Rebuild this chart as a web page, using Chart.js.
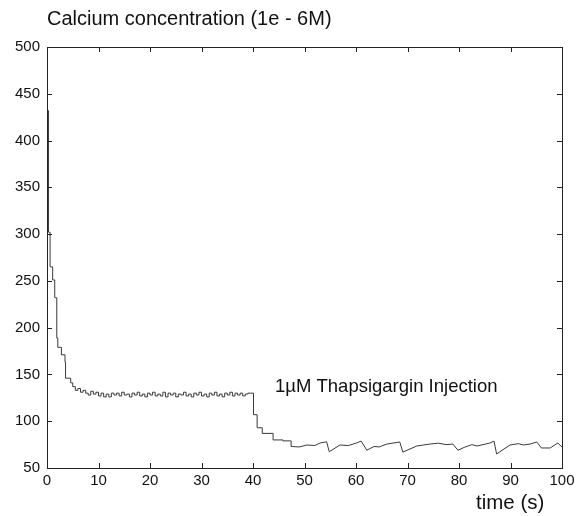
<!DOCTYPE html>
<html>
<head>
<meta charset="utf-8">
<script src="https://cdn.jsdelivr.net/npm/chart.js@4/dist/chart.umd.min.js"></script>
<style>
  html, body { margin: 0; padding: 0; background: #fff; }
  #wrap { width: 581px; height: 516px; }
</style>
</head>
<body>
<div id="wrap"><canvas id="c" width="581" height="516"></canvas></div>
<script>
// decay phase after start
const decayTime = [0, 0.3, 0.6, 1.1, 1.5, 1.9, 2.1, 2.8, 3.5, 3.6, 4.6, 5.0]
const decayCa = [432, 302, 265, 251, 232, 189, 179, 171, 163, 146, 141, 137]

// plateau, 5.5 s .. 40 s every 0.5 s
const plateauStart = 5.5
const plateauCa = [
  133, 135, 131, 133, 130, 128, 132, 129, 131, 127, 130, 126, 129, 126, 130,
  128, 130, 127, 131, 128, 129, 126, 130, 128, 131, 127, 129, 126, 130, 128,
  131, 127, 129, 127, 131, 126, 130, 128, 130, 126, 129, 128, 131, 127, 129,
  126, 130, 128, 131, 127, 129, 126, 130, 128, 131, 127, 129, 126, 130, 128,
  131, 127, 130, 128, 130, 127, 129, 130, 130, 130
]

// drop after injection (stepped)
const dropTime = [40.1, 40.8, 41.8, 43.9, 45.8, 47.4]
const dropCa = [107, 93, 87, 80, 79, 73]

// slow sawtooth afterwards
const lateTime = [47.4, 49, 50.5, 52, 53, 54.3, 54.8, 56.9, 58.5, 60.1, 61, 62.1, 63.5, 64.5, 66,
  68.5, 69.1, 71.8, 73, 74.4, 76, 77.5, 78.8, 79.8, 81, 82.5, 83.5, 86, 86.8, 87.3, 89.9, 91.5,
  92.5, 93.8, 95.1, 96, 97.7, 99.2, 100]
const lateCa = [73, 72.5, 74.6, 74, 76.7, 78, 67.4, 74.6, 74, 76.7, 78.8, 69, 73, 72.5, 75.6,
  77.8, 67, 73.5, 74.5, 75.6, 76.5, 75, 75.6, 69, 72, 75, 73.5, 76.7, 78.8, 65, 74.6, 76,
  74.6, 75.6, 77.8, 71.4, 71.4, 76.7, 72.4]

const xTicks = [0, 10, 20, 30, 40, 50, 60, 70, 80, 90, 100]
const yTicks = [50, 100, 150, 200, 250, 300, 350, 400, 450, 500]

const early = []
decayTime.forEach((t, i) => early.push({ x: t, y: decayCa[i] }))
plateauCa.forEach((v, i) => early.push({ x: plateauStart + i * 0.5, y: v }))
dropTime.forEach((t, i) => early.push({ x: t, y: dropCa[i] }))
const late = lateTime.map((t, i) => ({ x: t, y: lateCa[i] }))

const font = '"Liberation Sans", Arial, sans-serif'

const frame = {
  id: 'frame',
  afterDraw(chart) {
    const { ctx, chartArea: a, scales } = chart
    ctx.save()
    ctx.strokeStyle = '#222'
    ctx.lineWidth = 1
    ctx.strokeRect(a.left + 0.5, a.top + 0.5, a.right - a.left, a.bottom - a.top)
    ctx.beginPath()
    xTicks.forEach(v => {
      const px = Math.round(scales.x.getPixelForValue(v)) + 0.5
      ctx.moveTo(px, a.bottom); ctx.lineTo(px, a.bottom - 5)
      ctx.moveTo(px, a.top); ctx.lineTo(px, a.top + 5)
    })
    yTicks.forEach(v => {
      const py = Math.round(scales.y.getPixelForValue(v)) + 0.5
      ctx.moveTo(a.left, py); ctx.lineTo(a.left + 5, py)
      ctx.moveTo(a.right, py); ctx.lineTo(a.right - 5, py)
    })
    ctx.stroke()

    ctx.fillStyle = '#111'
    ctx.textBaseline = 'middle'
    ctx.textAlign = 'left'
    ctx.font = '20px ' + font
    ctx.fillText('Calcium concentration (1e - 6M)', 47, 19)
    ctx.font = '18.5px ' + font
    ctx.fillText('1µM Thapsigargin Injection', 275, 387)
    ctx.font = '20.5px ' + font
    ctx.fillText('time (s)', 476, 503)
    ctx.restore()
  }
}

new Chart(document.getElementById('c'), {
  type: 'line',
  data: {
    datasets: [
      { data: early, stepped: true, borderColor: '#3a3a3a', borderWidth: 1, pointRadius: 0, fill: false },
      { data: late, borderColor: '#3a3a3a', borderWidth: 1, pointRadius: 0, fill: false, tension: 0 }
    ]
  },
  options: {
    responsive: false,
    animation: false,
    layout: { padding: { top: 47, right: 19, left: 0, bottom: 0 } },
    plugins: { legend: { display: false }, tooltip: { enabled: false } },
    scales: {
      x: {
        type: 'linear',
        min: 0, max: 100,
        afterFit: s => { s.height = 48 },
        afterBuildTicks: s => { s.ticks = xTicks.map(v => ({ value: v })) },
        grid: { display: false, drawTicks: false },
        border: { display: false },
        ticks: { color: '#111', font: { size: 15, family: font }, padding: 4, maxRotation: 0 }
      },
      y: {
        min: 50, max: 500,
        afterFit: s => { s.width = 47 },
        afterBuildTicks: s => { s.ticks = yTicks.map(v => ({ value: v })) },
        grid: { display: false, drawTicks: false },
        border: { display: false },
        ticks: { color: '#111', font: { size: 15, family: font }, padding: 7 }
      }
    }
  },
  plugins: [frame]
})
</script>
</body>
</html>
